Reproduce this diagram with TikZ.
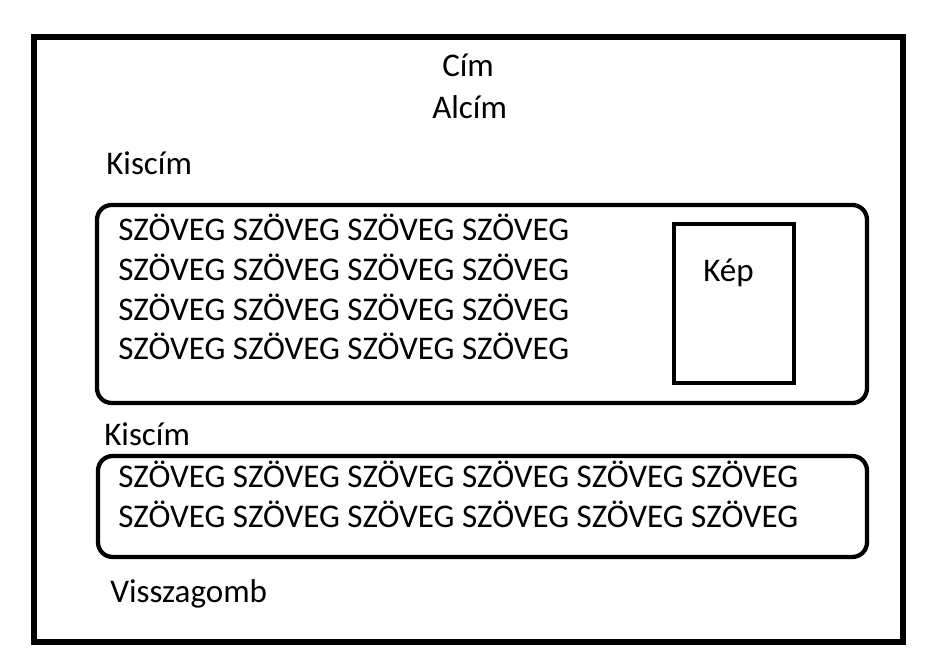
\documentclass[tikz,border=0pt]{standalone}
\usepackage{fontspec}
\setmainfont{Carlito}
\tikzset{
  felirat/.style={inner sep=0pt, anchor=base west, font=\fontsize{24.8}{30}\selectfont},
  doboz/.style={line width=3.2pt, rounded corners=11pt},
}
\begin{document}
\begin{tikzpicture}[x=0.75pt, y=-0.75pt]
\useasboundingbox (0,0) rectangle (925,670);

% keret
\draw[line width=3.8pt] (34,37) rectangle (903,642);

% fejlec
\node[felirat] (cim) at (442,77) {Cím};
\node[felirat] (alcim) at (432,119) {Alcím};

% elso blokk
\node[felirat] (kiscim1) at (106,175) {Kiscím};
\draw[doboz] (97,205) rectangle (867,403);
\foreach \y [count=\i] in {241,281,321,360}
  \node[felirat] (szoveg1-\i) at (118,\y) {SZÖVEG SZÖVEG SZÖVEG SZÖVEG};
\draw[line width=3.2pt] (674,224) rectangle (794,383);
\node[felirat] (kep) at (703,282) {Kép};

% masodik blokk
\node[felirat] (kiscim2) at (104,445) {Kiscím};
\draw[doboz] (98,456) rectangle (867,557);
\foreach \y [count=\i] in {487,527}
  \node[felirat] (szoveg2-\i) at (118,\y) {SZÖVEG SZÖVEG SZÖVEG SZÖVEG SZÖVEG SZÖVEG};

% gomb
\node[felirat] (vissza) at (110,602) {Visszagomb};

\end{tikzpicture}
\end{document}
